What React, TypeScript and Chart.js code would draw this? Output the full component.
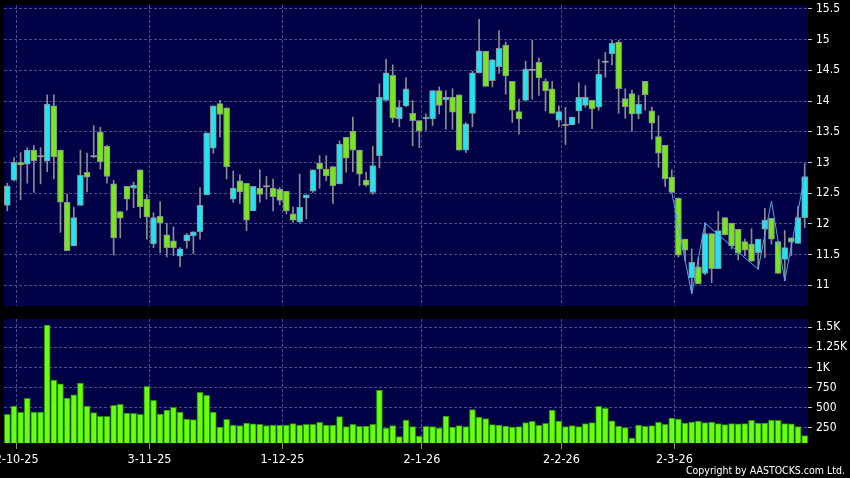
import React, { useEffect, useRef } from "react";
import { Chart, registerables } from "chart.js";
Chart.register(...registerables);

// ---------- data ----------
const dates = [
  "30-9-25",
  "2-10-25","3-10-25","6-10-25","8-10-25","9-10-25","10-10-25","13-10-25","14-10-25","15-10-25","16-10-25",
  "17-10-25","20-10-25","21-10-25","22-10-25","23-10-25","24-10-25","27-10-25","28-10-25","30-10-25","31-10-25",
  "3-11-25","4-11-25","5-11-25","6-11-25","7-11-25","10-11-25","11-11-25","12-11-25","13-11-25","14-11-25",
  "17-11-25","18-11-25","19-11-25","20-11-25","21-11-25","24-11-25","25-11-25","26-11-25","27-11-25","28-11-25",
  "1-12-25","2-12-25","3-12-25","4-12-25","5-12-25","8-12-25","9-12-25","10-12-25","11-12-25","12-12-25",
  "15-12-25","16-12-25","17-12-25","18-12-25","19-12-25","22-12-25","23-12-25","24-12-25","29-12-25","30-12-25","31-12-25",
  "2-1-26","5-1-26","6-1-26","7-1-26","8-1-26","9-1-26","12-1-26","13-1-26","14-1-26","15-1-26","16-1-26",
  "19-1-26","20-1-26","21-1-26","22-1-26","23-1-26","26-1-26","27-1-26","28-1-26","29-1-26","30-1-26",
  "2-2-26","3-2-26","4-2-26","5-2-26","6-2-26","9-2-26","10-2-26","11-2-26","12-2-26","13-2-26",
  "16-2-26","20-2-26","23-2-26","24-2-26","25-2-26","26-2-26","27-2-26",
  "2-3-26","3-3-26","4-3-26","5-3-26","6-3-26","9-3-26","10-3-26","11-3-26","12-3-26","13-3-26",
  "16-3-26","17-3-26","18-3-26","19-3-26","20-3-26","23-3-26","24-3-26","25-3-26","26-3-26","27-3-26","30-3-26",
];

const open = [
  12.30, 12.71, 13.00, 12.97, 13.20, 13.10, 13.02, 13.92, 13.20, 12.35,
  11.64, 12.30, 12.84, 13.10, 13.50, 13.26, 12.65, 12.20, 12.61, 12.58,
  12.88, 12.40, 11.67, 12.12, 11.82, 11.72, 11.47, 11.72, 11.80, 11.87,
  12.47, 13.23, 13.96, 13.89, 12.40, 12.70, 12.66, 12.21, 12.58, 12.61,
  12.58, 12.56, 12.53, 12.16, 12.03, 12.42, 12.53, 12.99, 12.89, 12.93,
  12.65, 13.41, 13.51, 13.20, 12.71, 12.51, 13.11, 14.01, 14.42, 13.71,
  13.92, 13.80, 13.68, 13.71, 13.71, 14.17, 14.02, 14.06, 14.10, 13.20,
  13.80, 14.46, 14.81, 14.33, 14.56, 14.91, 14.32, 13.83, 14.01, 14.51,
  14.63, 14.32, 14.20, 13.69, 13.61, 13.61, 13.84, 13.93, 14.01, 13.90,
  14.64, 14.77, 14.96, 14.04, 14.12, 13.79, 14.32, 13.84, 13.42, 13.28,
  12.76, 12.42, 11.75, 11.12, 11.30, 11.19, 11.84, 11.27, 12.10, 12.01,
  11.91, 11.71, 11.67, 11.53, 11.91, 12.09, 11.71, 11.42, 11.77, 11.68,
  12.10,
];
const high = [
  12.66, 13.08, 13.16, 13.24, 13.28, 13.24, 14.10, 14.10, 13.20, 12.48,
  12.27, 13.20, 13.15, 13.60, 13.57, 13.28, 12.71, 12.20, 12.61, 12.68,
  12.88, 12.47, 12.18, 12.36, 12.01, 11.95, 11.61, 11.84, 11.87, 12.59,
  13.48, 13.92, 14.01, 13.89, 12.86, 12.80, 12.66, 12.61, 12.88, 12.77,
  12.73, 12.59, 12.53, 12.27, 12.81, 12.47, 12.88, 13.11, 13.11, 12.93,
  13.35, 13.41, 13.74, 13.20, 12.84, 13.26, 14.28, 14.68, 14.59, 14.01,
  14.38, 14.01, 13.68, 13.79, 14.17, 14.23, 14.17, 14.20, 14.10, 13.65,
  14.49, 15.33, 14.81, 14.68, 15.15, 14.96, 14.32, 14.03, 14.65, 14.99,
  14.70, 14.36, 14.32, 13.92, 13.90, 13.74, 14.30, 14.25, 14.01, 14.68,
  14.79, 14.99, 14.99, 14.20, 14.18, 14.09, 14.32, 13.90, 13.76, 13.28,
  12.88, 12.42, 11.75, 11.59, 11.45, 12.02, 11.84, 12.20, 12.10, 12.01,
  11.91, 11.75, 11.92, 11.75, 12.25, 12.09, 11.71, 11.89, 11.77, 12.29,
  12.98,
];
const low = [
  12.21, 12.70, 12.39, 12.66, 12.51, 12.65, 12.85, 12.73, 11.86, 11.56,
  11.64, 12.30, 12.52, 13.08, 12.89, 12.66, 11.49, 11.77, 12.22, 12.26,
  12.10, 11.75, 11.61, 11.53, 11.46, 11.48, 11.30, 11.60, 11.51, 11.75,
  12.47, 13.15, 13.41, 12.73, 12.35, 12.33, 11.89, 12.21, 12.35, 12.40,
  12.21, 12.31, 12.16, 12.02, 12.01, 12.08, 12.51, 12.58, 12.70, 12.33,
  12.65, 12.84, 12.85, 12.62, 12.61, 12.48, 12.91, 14.01, 13.65, 13.58,
  13.91, 13.27, 13.24, 13.52, 13.60, 13.79, 13.54, 13.54, 13.20, 13.16,
  13.58, 14.46, 14.24, 14.23, 14.45, 14.11, 13.65, 13.46, 14.01, 14.03,
  14.09, 13.84, 13.80, 13.58, 13.29, 13.61, 13.64, 13.90, 13.55, 13.85,
  14.39, 14.59, 13.80, 13.72, 13.51, 13.71, 13.85, 13.38, 12.92, 12.61,
  12.51, 11.46, 11.40, 10.86, 11.02, 11.17, 11.04, 11.27, 11.82, 11.59,
  11.41, 11.48, 11.39, 11.26, 11.45, 11.67, 11.19, 11.07, 11.48, 11.68,
  11.94,
];
const close = [
  12.62, 13.00, 12.96, 13.20, 13.03, 13.10, 13.95, 13.09, 12.35, 11.56,
  12.10, 12.79, 12.76, 13.10, 13.01, 12.77, 11.77, 12.09, 12.40, 12.63,
  12.28, 12.11, 12.10, 12.01, 11.61, 11.61, 11.59, 11.82, 11.87, 12.30,
  13.48, 13.92, 13.78, 12.93, 12.58, 12.52, 12.06, 12.61, 12.48, 12.61,
  12.44, 12.38, 12.21, 12.06, 12.27, 12.47, 12.88, 12.89, 12.78, 12.62,
  13.30, 13.07, 13.20, 12.81, 12.63, 12.95, 14.06, 14.46, 13.72, 13.90,
  14.20, 13.68, 13.51, 13.74, 14.17, 13.93, 14.06, 13.82, 13.20, 13.63,
  14.46, 14.82, 14.24, 14.67, 14.86, 14.41, 13.85, 13.71, 14.52, 14.51,
  14.38, 14.17, 13.80, 13.83, 13.61, 13.74, 14.06, 14.06, 13.87, 14.44,
  14.64, 14.94, 14.20, 13.91, 13.79, 13.95, 14.10, 13.64, 13.15, 12.73,
  12.51, 11.49, 11.57, 11.37, 11.02, 11.84, 11.27, 11.89, 11.82, 11.64,
  11.52, 11.57, 11.39, 11.75, 12.06, 11.75, 11.19, 11.61, 11.70, 12.10,
  12.77,
];
const volume = [
  419, 522, 444, 617, 447, 446, 1525, 844, 798, 621,
  662, 807, 522, 440, 395, 395, 530, 542, 435, 431,
  419, 766, 593, 423, 473, 506, 448, 361, 353, 692,
  655, 448, 262, 357, 287, 279, 312, 300, 296, 279,
  287, 287, 287, 304, 287, 296, 296, 320, 287, 287,
  390, 266, 296, 270, 275, 296, 720, 250, 279, 142,
  349, 266, 151, 270, 266, 250, 398, 262, 279, 266,
  477, 386, 366, 291, 287, 275, 262, 266, 316, 332,
  283, 308, 473, 336, 266, 279, 266, 304, 316, 518,
  493, 340, 275, 254, 126, 287, 270, 279, 320, 296,
  374, 361, 312, 324, 336, 316, 324, 304, 291, 304,
  300, 304, 345, 312, 312, 349, 345, 304, 300, 266,
  155,
];
const zigDates = ["2-3-26", "5-3-26", "9-3-26", "19-3-26", "23-3-26", "25-3-26", "30-3-26"];
const zigValues = [12.51, 10.86, 12.01, 11.26, 12.37, 11.07, 12.78];
const priceTicks = [11, 11.5, 12, 12.5, 13, 13.5, 14, 14.5, 15, 15.5];
const volTicks = [250, 500, 750, 1000, 1250, 1500];
const volTickLabels = ["250", "500", "750", "1K", "1.25K", "1.5K"];
const monthTickLabels = ["2-10-25", "3-11-25", "1-12-25", "2-1-26", "2-2-26", "2-3-26"];
const copyright = "Copyright by AASTOCKS.com Ltd.";

// ---------- style ----------
const FONT = '"DejaVu Sans Condensed", "DejaVu Sans", sans-serif';
const GRID = "#4c4c8c";
const UP = "#22e4f0";
const DOWN = "#78e61e";
const FLAT = "#a0a0a0";
const WICK = "#8c8c8c";
const BODY_BORDER = "#8a9090";
const PLOT_BG = "#000046";
const VOL_FILL = "#66ff10";
const VOL_BORDER = "#2c8a00";
const TICK_SHIFT = 0.4;

const monthIdx = monthTickLabels.map((l) => dates.indexOf(l));

const plotBg = {
  id: "plotBg",
  beforeDraw(chart: any) {
    const { ctx, chartArea: a } = chart;
    ctx.save();
    ctx.fillStyle = PLOT_BG;
    ctx.fillRect(a.left, a.top, a.right - a.left, a.bottom - a.top);
    ctx.restore();
  },
};

const copyrightPlugin = {
  id: "copyrightText",
  afterDraw(chart: any) {
    const { ctx, width, height } = chart;
    ctx.save();
    ctx.fillStyle = "#ffffff";
    ctx.font = `10.5px ${FONT}`;
    ctx.textAlign = "right";
    ctx.textBaseline = "middle";
    ctx.fillText(copyright, width - 5, height - 7);
    ctx.restore();
  },
};

function xScale(showLabels: boolean) {
  return {
    type: "category",
    labels: dates,
    offset: true,
    afterBuildTicks: (s: any) => {
      s.ticks = monthIdx.map((i) => ({ value: i + TICK_SHIFT }));
    },
    afterFit: (s: any) => {
      s.paddingLeft = 0;
      s.paddingRight = 0;
      s.height = showLabels ? 35 : 0;
    },
    grid: {
      offset: false,
      color: GRID,
      lineWidth: 1,
      drawTicks: showLabels,
      tickLength: 6,
      tickColor: "#8a8a8a",
    },
    border: { display: false, dash: [3, 2] },
    ticks: {
      display: showLabels,
      autoSkip: false,
      maxRotation: 0,
      minRotation: 0,
      padding: 3,
      color: "#ffffff",
      font: { family: FONT, size: 12.5 },
      callback: (v: number) => {
        const k = monthIdx.findIndex((i) => Math.abs(i + TICK_SHIFT - v) < 1e-6);
        return k >= 0 ? monthTickLabels[k] : "";
      },
    },
  };
}

export default function App() {
  const priceRef = useRef<HTMLCanvasElement>(null);
  const volRef = useRef<HTMLCanvasElement>(null);

  useEffect(() => {
    document.body.style.margin = "0";
    document.body.style.background = "#000";

    const bodies = open.map((o, i) =>
      o === close[i] ? [o - 0.008, o + 0.008] : [Math.min(o, close[i]), Math.max(o, close[i])]
    );
    const wicks = low.map((l, i) => [l, high[i]]);
    const zig = dates.map((d) => {
      const k = zigDates.indexOf(d);
      return k >= 0 ? zigValues[k] : null;
    });
    const bodyColor = (i: number) =>
      close[i] > open[i] ? UP : close[i] < open[i] ? DOWN : FLAT;

    const c1 = new Chart(priceRef.current as HTMLCanvasElement, {
      type: "bar",
      data: {
        labels: dates,
        datasets: [
          {
            type: "bar",
            label: "wick",
            data: wicks as any,
            backgroundColor: WICK,
            borderWidth: 0,
            barThickness: 1,
            grouped: false,
            order: 2,
          } as any,
          {
            type: "bar",
            label: "body",
            data: bodies as any,
            backgroundColor: (ctx: any) => bodyColor(ctx.dataIndex),
            borderColor: (ctx: any) =>
              open[ctx.dataIndex] === close[ctx.dataIndex] ? FLAT : BODY_BORDER,
            borderWidth: (ctx: any) => (open[ctx.dataIndex] === close[ctx.dataIndex] ? 0 : 1),
            borderSkipped: false,
            barThickness: 6,
            grouped: false,
            order: 1,
          } as any,
          {
            type: "line",
            label: "zigzag",
            data: zig as any,
            borderColor: "#4fa8ec",
            borderWidth: 1,
            pointRadius: 0,
            spanGaps: true,
            tension: 0,
            order: 0,
          } as any,
        ],
      },
      options: {
        responsive: false,
        animation: false,
        devicePixelRatio: 1,
        events: [],
        layout: { padding: { top: 5, left: 4, right: 0, bottom: 4 } },
        plugins: { legend: { display: false }, tooltip: { enabled: false } },
        scales: {
          x: xScale(false) as any,
          y: {
            position: "right",
            min: 10.66,
            max: 15.565,
            afterBuildTicks: (s: any) => {
              s.ticks = priceTicks.map((v) => ({ value: v }));
            },
            afterFit: (s: any) => {
              s.width = 42;
              s.paddingTop = 0;
              s.paddingBottom = 0;
            },
            grid: {
              color: GRID,
              lineWidth: 1,
              drawTicks: true,
              tickLength: 4,
              tickColor: "#c8c8c8",
            },
            border: { display: false, dash: [3, 2] },
            ticks: {
              color: "#ffffff",
              padding: 4,
              font: { family: FONT, size: 12 },
              callback: (v: any) => String(v),
            },
          } as any,
        },
      },
      plugins: [plotBg],
    });

    const c2 = new Chart(volRef.current as HTMLCanvasElement, {
      type: "bar",
      data: {
        labels: dates,
        datasets: [
          {
            label: "volume",
            data: volume,
            backgroundColor: VOL_FILL,
            borderColor: VOL_BORDER,
            borderWidth: 1,
            barThickness: 6,
          } as any,
        ],
      },
      options: {
        responsive: false,
        animation: false,
        devicePixelRatio: 1,
        events: [],
        layout: { padding: { top: 9, left: 4, right: 0, bottom: 0 } },
        plugins: { legend: { display: false }, tooltip: { enabled: false } },
        scales: {
          x: xScale(true) as any,
          y: {
            position: "right",
            min: 64,
            max: 1600,
            afterBuildTicks: (s: any) => {
              s.ticks = volTicks.map((v) => ({ value: v }));
            },
            afterFit: (s: any) => {
              s.width = 42;
              s.paddingTop = 0;
              s.paddingBottom = 0;
            },
            grid: {
              color: GRID,
              lineWidth: 1,
              drawTicks: true,
              tickLength: 4,
              tickColor: "#c8c8c8",
            },
            border: { display: false, dash: [3, 2] },
            ticks: {
              color: "#ffffff",
              padding: 4,
              font: { family: FONT, size: 12 },
              callback: (v: any) => {
                const k = volTicks.indexOf(v);
                return k >= 0 ? volTickLabels[k] : "";
              },
            },
          } as any,
        },
      },
      plugins: [plotBg, copyrightPlugin],
    });

    return () => {
      c1.destroy();
      c2.destroy();
    };
  }, []);

  return (
    <div style={{ position: "relative", width: 850, height: 478, background: "#000", overflow: "hidden" }}>
      <canvas ref={priceRef} width={850} height={310} style={{ position: "absolute", left: 0, top: 0 }} />
      <canvas ref={volRef} width={850} height={168} style={{ position: "absolute", left: 0, top: 310 }} />
    </div>
  );
}
